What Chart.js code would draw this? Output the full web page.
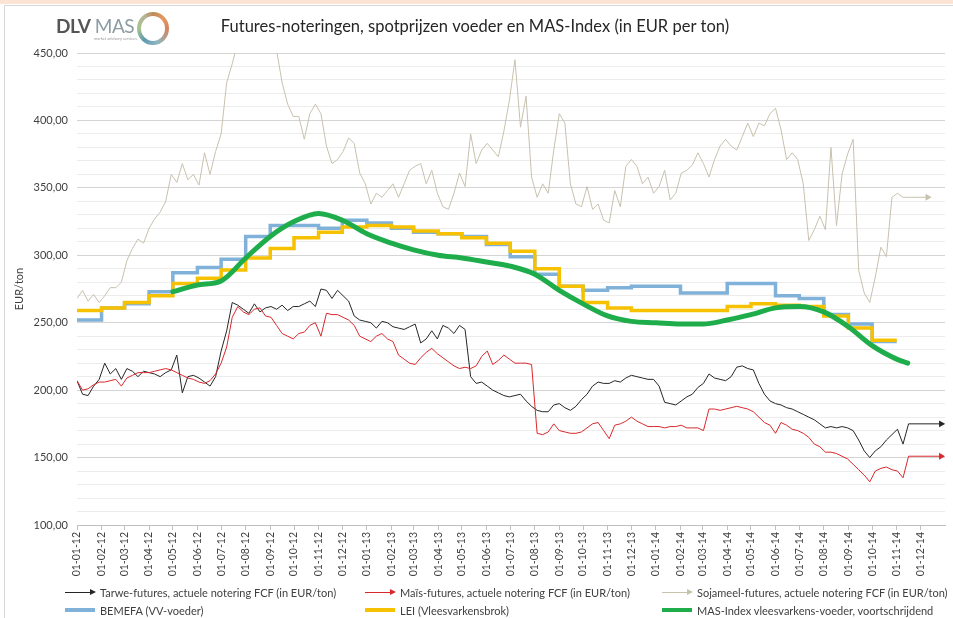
<!DOCTYPE html>
<html>
<head>
<meta charset="utf-8">
<script src="https://cdn.jsdelivr.net/npm/chart.js@4.4.1/dist/chart.umd.min.js"></script>
<style>
  body { margin: 0; background: #fff; font-family: Lato, "Open Sans", sans-serif; }
  #wrap { position: relative; width: 953px; height: 618px; overflow: hidden; }
  #band { position: absolute; left: 0; top: 0; width: 953px; height: 4px; background: #fbe4d4; }
  #frame { position: absolute; left: 4px; top: 5px; width: 960px; height: 620px; border-left: 1px solid #d6d6d6; border-top: 1px solid #d6d6d6; }
  canvas { position: absolute; left: 0; top: 0; }
  .logo { position: absolute; left: 56px; top: 16px; font-size: 19px; line-height: 20px; letter-spacing: -0.5px; }
  .logo .dlv { font-weight: 700; color: #555; }
  .logo .mas { color: #8d9ba4; }
  .logo .sub { position: absolute; left: 38px; top: 21px; font-size: 4px; line-height: 4px; color: #999; letter-spacing: 0; white-space: nowrap; }
  .ring { position: absolute; left: 137px; top: 12px; width: 32px; height: 33px; border-radius: 50%;
          background: conic-gradient(#c08a5a, #e39a63, #d8835a 25%, #8fb6c2 45%, #5d9bb0 60%, #a9c48a 75%, #b5b59a 90%, #c08a5a); }
  .ring::after { content: ""; position: absolute; left: 4px; top: 4px; width: 24px; height: 25px; border-radius: 50%; background: #fff; }
  .item { position: absolute; display: flex; align-items: center; height: 18px; font-size: 11px; color: #404040; white-space: nowrap; }
  .mk { position: relative; width: 30px; height: 18px; margin-right: 5px; }
  .mk .ln { position: absolute; left: 0; top: 9px; width: 26px; height: 1px; }
  .mk .ar { position: absolute; left: 25px; top: 6px; width: 0; height: 0; border-top: 3.5px solid transparent; border-bottom: 3.5px solid transparent; border-left: 6px solid; }
  .mk .bar { position: absolute; left: 0; top: 7px; width: 30px; height: 4px; }
</style>
</head>
<body>
<div id="wrap">
  <div id="band"></div>
  <div id="frame"></div>
  <canvas id="chart" width="953" height="618"></canvas>
  <div class="logo"><span class="dlv">DLV</span> <span class="mas">MAS</span><div class="sub">market advisory services</div></div>
  <div class="ring"></div>
  <div id="legend"></div>
</div>
<script>
// x axis labels (first day of each month)
const monthLabels = [
  "01-01-12","01-02-12","01-03-12","01-04-12","01-05-12","01-06-12","01-07-12","01-08-12","01-09-12","01-10-12","01-11-12","01-12-12",
  "01-01-13","01-02-13","01-03-13","01-04-13","01-05-13","01-06-13","01-07-13","01-08-13","01-09-13","01-10-13","01-11-13","01-12-13",
  "01-01-14","01-02-14","01-03-14","01-04-14","01-05-14","01-06-14","01-07-14","01-08-14","01-09-14","01-10-14","01-11-14","01-12-14"
];
const yTicks = [100, 150, 200, 250, 300, 350, 400, 450];

// weekly futures quotes (EUR/ton), one value per week from 01-01-12
const tarwe = [
  207,197,196,203,208,220,212,216,208,216,
  214,210,214,213,212,210,213,215,226,198,
  210,211,209,206,203,210,229,244,265,263,
  260,257,264,258,261,262,260,263,259,262,
  262,264,266,262,275,274,268,274,270,266,
  255,252,251,250,246,251,250,247,246,245,
  247,249,235,238,244,238,248,246,242,248,
  245,210,205,206,203,200,198,196,195,196,
  197,192,188,185,184,184,189,190,187,185,
  188,193,197,203,206,205,205,207,206,209,
  211,210,209,208,208,203,191,190,189,192,
  195,197,202,205,212,209,208,207,210,217,
  218,216,215,205,197,192,190,189,187,186,
  184,182,180,178,175,172,173,172,173,172,
  170,163,155,150,155,158,163,167,171,160,175
];
const mais = [
  207,200,201,204,206,206,207,208,203,209,
  211,213,213,213,214,215,216,215,213,211,
  209,208,206,205,207,212,220,232,254,262,
  258,256,260,261,255,254,248,242,240,238,
  242,243,248,250,240,257,256,256,254,252,
  248,240,238,236,240,242,238,236,226,223,
  220,219,224,228,231,227,224,221,218,216,
  217,216,218,225,229,219,222,226,223,220,
  220,220,219,168,167,169,175,170,169,168,
  168,169,172,175,176,170,164,174,175,177,
  180,177,175,173,173,173,172,173,173,174,
  172,172,172,170,186,186,185,186,187,188,
  187,186,184,180,176,174,168,176,174,171,
  170,168,165,160,158,154,154,153,151,149,
  145,141,137,132,140,142,143,141,140,135,151
];
const soja = [
  268,274,266,271,265,270,276,276,280,296,
  305,312,309,320,327,332,340,360,354,368,
  356,360,352,376,360,377,390,428,442,458,
  485,510,525,505,495,470,452,428,412,403,
  403,386,405,412,405,381,368,371,377,387,
  383,361,353,338,346,343,348,353,343,353,
  363,366,368,353,363,346,336,334,346,361,
  351,390,368,378,383,378,373,392,415,445,
  395,418,358,343,353,346,378,405,398,353,
  338,336,351,334,338,326,324,348,336,366,
  371,366,353,358,346,351,363,341,346,361,
  363,367,376,368,358,371,381,386,381,378,
  388,398,388,398,396,405,409,393,371,376,
  371,353,311,319,329,319,380,322,360,375,
  386,289,272,265,284,306,299,343,346,343,343
];
// last quote carried forward to the arrow end
const tarweEnd = "27-12-14";
const maisEnd = "27-12-14";
const sojaEnd = "10-12-14";

// monthly spot prices, 01-01-12 .. 01-10-14
const bemefa = [
  252,261,264,273,287,291,297,314,322,322,320,326,
  324,320,317,316,314,308,299,286,277,274,276,277,
  277,272,272,279,279,270,268,256,249,236
];
const lei = [
  259,261,265,270,279,283,289,298,305,313,317,321,
  322,321,318,316,313,309,303,290,277,265,261,259,
  259,259,259,262,264,263,262,255,246,237
];
const spotEnd = "01-11-14";

// MAS-Index, monthly 01-05-12 .. 01-11-14, then last value
const masIndex = [
  273,278,281,298,314,325,331,326,
  316,309,304,300,298,295,292,286,274,264,255,251,
  250,249,249,252,256,261,262,258,247,233,223
];
const masStart = 4;
const masLast = { date: "15-11-14", value: 220 };

// helpers
function dayOf(label) {
  const [d, m, y] = label.split("-").map(Number);
  return (Date.UTC(2000 + y, m - 1, d) - Date.UTC(2012, 0, 1)) / 864e5;
}
const monthDays = monthLabels.map(dayOf);
const axisEnd = dayOf("01-01-15");

function weekly(values, endLabel) {
  const pts = values.map((v, i) => ({ x: i * 7, y: v }));
  pts.push({ x: dayOf(endLabel), y: values[values.length - 1] });
  return pts;
}
function monthly(values, endLabel) {
  const pts = values.map((v, i) => ({ x: monthDays[i], y: v }));
  pts.push({ x: dayOf(endLabel), y: values[values.length - 1] });
  return pts;
}
const masPoints = masIndex.map((v, i) => ({ x: monthDays[masStart + i], y: v }));
masPoints.push({ x: dayOf(masLast.date), y: masLast.value });

const arrowEnd = (ctx) => ctx.dataIndex === ctx.dataset.data.length - 1 ? 4 : 0;

function futures(label, data, color, order) {
  return {
    label, data, order,
    borderColor: color, backgroundColor: color,
    borderWidth: 1, tension: 0,
    pointRadius: arrowEnd, pointStyle: "triangle", rotation: 90,
    pointBorderWidth: 0, pointBackgroundColor: color
  };
}

const chart = new Chart(document.getElementById("chart"), {
  type: "line",
  data: {
    datasets: [
      futures("Tarwe-futures, actuele notering FCF (in EUR/ton)", weekly(tarwe, tarweEnd), "#262626", 4),
      futures("Maïs-futures, actuele notering FCF (in EUR/ton)", weekly(mais, maisEnd), "#d8282c", 3),
      futures("Sojameel-futures, actuele notering FCF (in EUR/ton)", weekly(soja, sojaEnd), "#c8c1ae", 5),
      {
        label: "BEMEFA (VV-voeder)", data: monthly(bemefa, spotEnd), order: 2,
        borderColor: "#7fb1d9", backgroundColor: "#7fb1d9", borderWidth: 3.5,
        stepped: true, pointRadius: 0
      },
      {
        label: "LEI (Vleesvarkensbrok)", data: monthly(lei, spotEnd), order: 1,
        borderColor: "#f6c100", backgroundColor: "#f6c100", borderWidth: 3.5,
        stepped: true, pointRadius: 0
      },
      {
        label: "MAS-Index vleesvarkens-voeder, voortschrijdend", data: masPoints, order: 0,
        borderColor: "#1fad4b", backgroundColor: "#1fad4b", borderWidth: 5,
        cubicInterpolationMode: "monotone", pointRadius: 0, borderCapStyle: "round"
      }
    ]
  },
  options: {
    responsive: false,
    animation: false,
    devicePixelRatio: 1,
    layout: { padding: { left: 5, right: 8, top: 0, bottom: 35 } },
    plugins: {
      legend: { display: false },
      tooltip: { enabled: false },
      title: {
        display: true,
        text: "Futures-noteringen, spotprijzen voeder en MAS-Index (in EUR per ton)",
        color: "#262626",
        font: { family: "Lato", size: 16.5, weight: "normal" },
        padding: { top: 17, bottom: 16.2 }
      }
    },
    scales: {
      x: {
        type: "linear", min: 0, max: axisEnd,
        afterBuildTicks: (s) => { s.ticks = monthDays.map((v) => ({ value: v })); },
        afterFit: (s) => { s.height = 58; },
        ticks: {
          autoSkip: false, minRotation: 90, maxRotation: 90, padding: 2,
          color: "#404040", font: { family: "Lato", size: 10.5 },
          callback: (v, i) => monthLabels[i]
        },
        grid: { drawOnChartArea: false, drawTicks: true, tickLength: 5, color: "#bfbfbf" },
        border: { color: "#bfbfbf" }
      },
      y: {
        min: 100, max: 450,
        afterFit: (s) => { s.width = 72; },
        ticks: {
          stepSize: 10, autoSkip: false, padding: 9,
          color: "#404040", font: { family: "Lato", size: 11 },
          callback: (v) => yTicks.includes(v) ? v.toFixed(2).replace(".", ",") : ""
        },
        grid: {
          drawTicks: false,
          color: (c) => c.tick && yTicks.includes(c.tick.value) ? "#d4d4d4" : "#ececec"
        },
        border: { display: false },
        title: {
          display: true, text: "EUR/ton", color: "#404040",
          font: { family: "Lato", size: 11 }, padding: { top: 8, bottom: 0 }
        }
      }
    }
  }
});

// legend: 3 columns x 2 rows under the axis
const legendCols = [65, 365, 662];
const legendRows = [583, 601];
const legendEl = document.getElementById("legend");
chart.data.datasets.forEach((ds, i) => {
  const item = document.createElement("div");
  item.className = "item";
  item.style.left = legendCols[i % 3] + "px";
  item.style.top = legendRows[Math.floor(i / 3)] + "px";
  const mk = document.createElement("span");
  mk.className = "mk";
  if (ds.borderWidth <= 1) {
    mk.innerHTML = '<span class="ln" style="background:' + ds.borderColor + '"></span>' +
                   '<span class="ar" style="border-left-color:' + ds.borderColor + '"></span>';
  } else {
    mk.innerHTML = '<span class="bar" style="background:' + ds.borderColor + '"></span>';
  }
  item.appendChild(mk);
  item.appendChild(document.createTextNode(ds.label));
  legendEl.appendChild(item);
});
</script>
</body>
</html>
